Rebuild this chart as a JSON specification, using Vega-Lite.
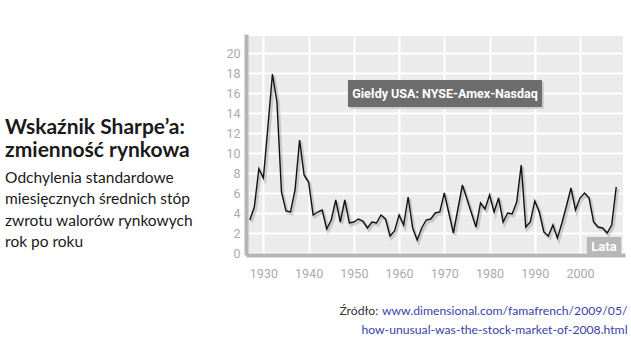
{
  "$schema": "https://vega.github.io/schema/vega-lite/v6.json",
  "width": 375,
  "height": 217,
  "autosize": {"type": "none"},
  "padding": {"left": 248, "top": 36, "right": 8, "bottom": 111},
  "background": "white",
  "view": {"fill": "#ebebeb", "stroke": null},
  "config": {"font": "Lato"},
  "datasets": {
    "series": [
      {"year": 1927, "value": 3.3}, {"year": 1928, "value": 4.6}, {"year": 1929, "value": 8.4}, {"year": 1930, "value": 7.5},
      {"year": 1931, "value": 12.6}, {"year": 1932, "value": 17.9}, {"year": 1933, "value": 15.1}, {"year": 1934, "value": 6.1},
      {"year": 1935, "value": 4.2}, {"year": 1936, "value": 4.1}, {"year": 1937, "value": 6.3}, {"year": 1938, "value": 11.3},
      {"year": 1939, "value": 7.8}, {"year": 1940, "value": 7.1}, {"year": 1941, "value": 3.8}, {"year": 1942, "value": 4.1},
      {"year": 1943, "value": 4.3}, {"year": 1944, "value": 2.4}, {"year": 1945, "value": 3.3}, {"year": 1946, "value": 5.3},
      {"year": 1947, "value": 3.1}, {"year": 1948, "value": 5.3}, {"year": 1949, "value": 3.0}, {"year": 1950, "value": 3.1},
      {"year": 1951, "value": 3.4}, {"year": 1952, "value": 3.2}, {"year": 1953, "value": 2.5}, {"year": 1954, "value": 3.1},
      {"year": 1955, "value": 3.0}, {"year": 1956, "value": 3.8}, {"year": 1957, "value": 3.4}, {"year": 1958, "value": 1.7},
      {"year": 1959, "value": 2.2}, {"year": 1960, "value": 3.8}, {"year": 1961, "value": 2.8}, {"year": 1962, "value": 5.6},
      {"year": 1963, "value": 2.5}, {"year": 1964, "value": 1.3}, {"year": 1965, "value": 2.5}, {"year": 1966, "value": 3.3},
      {"year": 1967, "value": 3.4}, {"year": 1968, "value": 4.0}, {"year": 1969, "value": 4.1}, {"year": 1970, "value": 6.0},
      {"year": 1971, "value": 4.0}, {"year": 1972, "value": 2.0}, {"year": 1973, "value": 4.4}, {"year": 1974, "value": 6.8},
      {"year": 1975, "value": 5.4}, {"year": 1976, "value": 4.0}, {"year": 1977, "value": 2.6}, {"year": 1978, "value": 5.0},
      {"year": 1979, "value": 4.4}, {"year": 1980, "value": 5.8}, {"year": 1981, "value": 4.1}, {"year": 1982, "value": 5.5},
      {"year": 1983, "value": 3.1}, {"year": 1984, "value": 4.0}, {"year": 1985, "value": 3.9}, {"year": 1986, "value": 5.1},
      {"year": 1987, "value": 8.8}, {"year": 1988, "value": 2.6}, {"year": 1989, "value": 3.1}, {"year": 1990, "value": 5.2},
      {"year": 1991, "value": 4.1}, {"year": 1992, "value": 2.1}, {"year": 1993, "value": 1.7}, {"year": 1994, "value": 2.8},
      {"year": 1995, "value": 1.5}, {"year": 1996, "value": 3.0}, {"year": 1997, "value": 4.7}, {"year": 1998, "value": 6.5},
      {"year": 1999, "value": 4.3}, {"year": 2000, "value": 5.5}, {"year": 2001, "value": 6.0}, {"year": 2002, "value": 5.5},
      {"year": 2003, "value": 3.1}, {"year": 2004, "value": 2.6}, {"year": 2005, "value": 2.5}, {"year": 2006, "value": 2.0},
      {"year": 2007, "value": 2.8}, {"year": 2008, "value": 6.6}
    ],
    "darkBox": [{"year": 1948.7, "year2": 1991.6, "value": 17.3, "value2": 14.6}],
    "darkLabel": [{"year": 1970.15, "value": 15.95, "label": "Giełdy USA: NYSE-Amex-Nasdaq"}],
    "lightBox": [{"year": 2001.5, "year2": 2009.1, "value": 1.6, "value2": -0.3}],
    "lightLabel": [{"year": 2005.3, "value": 0.65, "label": "Lata"}],
    "headline": [
      {"year": 1872.9, "value": 12.47, "label": "Wskaźnik Sharpe’a:"},
      {"year": 1872.9, "value": 10.2, "label": "zmienność rynkowa"}
    ],
    "body": [
      {"year": 1872.9, "value": 7.55, "label": "Odchylenia standardowe"},
      {"year": 1872.9, "value": 5.4, "label": "miesięcznych średnich stóp"},
      {"year": 1872.9, "value": 3.25, "label": "zwrotu walorów rynkowych"},
      {"year": 1872.9, "value": 1.15, "label": "rok po roku"}
    ],
    "sourceLead": [{"year": 1946.8, "value": -5.8, "label": "Źródło:"}],
    "sourceLink": [
      {"year": 2010.5, "value": -5.8, "label": "www.dimensional.com/famafrench/2009/05/"},
      {"year": 2010.5, "value": -7.7, "label": "how-unusual-was-the-stock-market-of-2008.html"}
    ]
  },
  "encoding": {
    "x": {
      "field": "year", "type": "quantitative",
      "scale": {"domain": [1926.6, 2009.5], "nice": false, "zero": false},
      "axis": {
        "title": null, "values": [1930, 1940, 1950, 1960, 1970, 1980, 1990, 2000], "format": "d",
        "grid": true, "gridColor": "#ffffff", "gridWidth": 2, "ticks": false,
        "domainColor": "#b5b5b5", "domainWidth": 4, "domainCap": "square", "offset": 2,
        "labelColor": "#ababab", "labelFont": "Roboto",
        "labelFontSize": 12.5, "labelPadding": 12
      }
    },
    "y": {
      "field": "value", "type": "quantitative",
      "scale": {"domain": [0, 21.7], "nice": false},
      "axis": {
        "title": null, "values": [0, 2, 4, 6, 8, 10, 12, 14, 16, 18, 20],
        "grid": true, "gridColor": "#ffffff", "gridWidth": 2, "ticks": false,
        "domainColor": "#b5b5b5", "domainWidth": 4, "domainCap": "square", "offset": 2,
        "labelColor": "#ababab", "labelFont": "Roboto",
        "labelFontSize": 12.5, "labelPadding": 6
      }
    }
  },
  "layer": [
    {"data": {"name": "series"}, "mark": {"type": "line", "color": "#000000", "opacity": 0.15, "strokeWidth": 3, "xOffset": 1.5, "yOffset": 2}},
    {"data": {"name": "series"}, "mark": {"type": "line", "color": "#111111", "strokeWidth": 1.4}},
    {"data": {"name": "darkBox"}, "mark": {"type": "rect", "color": "#cfcfcf", "xOffset": 2, "x2Offset": 2, "yOffset": 2, "y2Offset": 2}, "encoding": {"x2": {"field": "year2"}, "y2": {"field": "value2"}}},
    {"data": {"name": "darkBox"}, "mark": {"type": "rect", "color": "#6d6d6d"}, "encoding": {"x2": {"field": "year2"}, "y2": {"field": "value2"}}},
    {"data": {"name": "darkLabel"}, "mark": {"type": "text", "color": "#ffffff", "font": "Roboto", "fontWeight": "bold", "fontSize": 12.5, "align": "center", "baseline": "middle"}, "encoding": {"text": {"field": "label"}}},
    {"data": {"name": "lightBox"}, "mark": {"type": "rect", "color": "#b8b8b8"}, "encoding": {"x2": {"field": "year2"}, "y2": {"field": "value2"}}},
    {"data": {"name": "lightLabel"}, "mark": {"type": "text", "color": "#ffffff", "font": "Roboto", "fontWeight": "bold", "fontSize": 13, "align": "center", "baseline": "middle"}, "encoding": {"text": {"field": "label"}}},
    {"data": {"name": "headline"}, "mark": {"type": "text", "color": "#1a1a1a", "font": "Lato", "fontWeight": "bold", "fontSize": 21, "align": "left", "baseline": "middle"}, "encoding": {"text": {"field": "label"}}},
    {"data": {"name": "body"}, "mark": {"type": "text", "color": "#1a1a1a", "font": "Lato", "fontSize": 15.5, "align": "left", "baseline": "middle"}, "encoding": {"text": {"field": "label"}}},
    {"data": {"name": "sourceLead"}, "mark": {"type": "text", "color": "#333333", "font": "Lato", "fontSize": 12.2, "align": "left", "baseline": "middle"}, "encoding": {"text": {"field": "label"}}},
    {"data": {"name": "sourceLink"}, "mark": {"type": "text", "color": "#3b3fa8", "font": "Lato", "fontSize": 12.2, "align": "right", "baseline": "middle"}, "encoding": {"text": {"field": "label"}}}
  ]
}
